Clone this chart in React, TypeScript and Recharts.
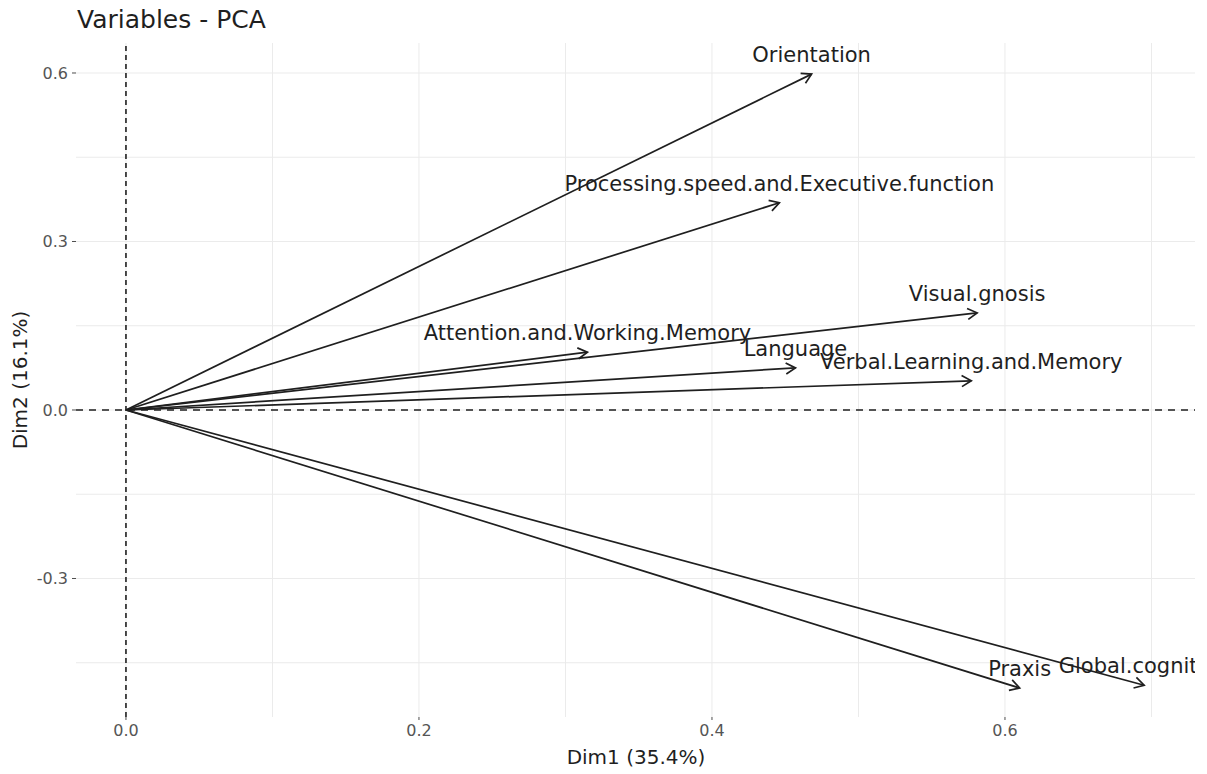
import React from 'react';
import { ScatterChart, XAxis, YAxis, ReferenceLine } from 'recharts';

const variables = [
  'Orientation',
  'Processing.speed.and.Executive.function',
  'Visual.gnosis',
  'Attention.and.Working.Memory',
  'Language',
  'Verbal.Learning.and.Memory',
  'Praxis',
  'Global.cognition',
];
const dim1 = [0.468, 0.446, 0.581, 0.315, 0.457, 0.577, 0.61, 0.695];
const dim2 = [0.598, 0.369, 0.173, 0.103, 0.075, 0.052, -0.495, -0.49];

const xTicks = [0, 0.2, 0.4, 0.6];
const yTicks = [-0.3, 0, 0.3, 0.6];
const xGrid = [0, 0.1, 0.2, 0.3, 0.4, 0.5, 0.6, 0.7];
const yGrid = [-0.45, -0.3, -0.15, 0, 0.15, 0.3, 0.45, 0.6];

const ink = '#1f1f1f';
const font = '"DejaVu Sans", sans-serif';

const Arrow = (p: any) => {
  const { x1, y1, x2, y2, clipPath, name } = p;
  const a = Math.atan2(y2 - y1, x2 - x1);
  const len = 11;
  const spread = Math.PI / 6;
  const h1x = x2 - len * Math.cos(a - spread);
  const h1y = y2 - len * Math.sin(a - spread);
  const h2x = x2 - len * Math.cos(a + spread);
  const h2y = y2 - len * Math.sin(a + spread);
  return (
    <g clipPath={clipPath}>
      <line x1={x1} y1={y1} x2={x2} y2={y2} stroke={ink} strokeWidth={1.7} />
      <polyline
        points={`${h1x},${h1y} ${x2},${y2} ${h2x},${h2y}`}
        fill="none"
        stroke={ink}
        strokeWidth={1.7}
      />
      <text x={x2} y={y2 - 12} textAnchor="middle" fontSize={21} fill={ink} fontFamily={font}>
        {name}
      </text>
    </g>
  );
};

const App: React.FC = () => {
  return (
    <div
      style={{
        position: 'absolute',
        left: 0,
        top: 0,
        width: 1207,
        height: 774,
        background: '#fff',
        fontFamily: font,
      }}
    >
      <div style={{ position: 'absolute', left: 77, top: 5, fontSize: 25, color: ink }}>Variables - PCA</div>
      <div
        style={{
          position: 'absolute',
          left: 20,
          top: 380,
          fontSize: 20,
          color: ink,
          whiteSpace: 'nowrap',
          transform: 'translate(-50%, -50%) rotate(-90deg)',
        }}
      >
        Dim2 (16.1%)
      </div>
      <div
        style={{
          position: 'absolute',
          left: 636,
          top: 757,
          fontSize: 20,
          color: ink,
          whiteSpace: 'nowrap',
          transform: 'translate(-50%, -50%)',
        }}
      >
        Dim1 (35.4%)
      </div>
      <ScatterChart width={1207} height={774} margin={{ top: 43, right: 12, left: 0, bottom: 0 }}>
        <XAxis
          type="number"
          dataKey="x"
          domain={[-0.0341, 0.7297]}
          allowDataOverflow
          ticks={xTicks}
          tickFormatter={(v: number) => v.toFixed(1)}
          axisLine={false}
          tickLine={{ stroke: '#4d4d4d' }}
          tickSize={3}
          tickMargin={5}
          height={57}
          tick={{ fill: '#555', fontSize: 16, fontFamily: font }}
        />
        <YAxis
          type="number"
          dataKey="y"
          domain={[-0.5466, 0.6534]}
          allowDataOverflow
          ticks={yTicks}
          tickFormatter={(v: number) => v.toFixed(1)}
          axisLine={false}
          tickLine={{ stroke: '#4d4d4d' }}
          tickSize={4}
          tickMargin={4}
          width={76}
          tick={{ fill: '#555', fontSize: 16, fontFamily: font }}
        />
        {xGrid.map((v) => (
          <ReferenceLine key={`gx${v}`} x={v} stroke="#ebebeb" strokeWidth={1} />
        ))}
        {yGrid.map((v) => (
          <ReferenceLine key={`gy${v}`} y={v} stroke="#ebebeb" strokeWidth={1} />
        ))}
        <ReferenceLine x={0} stroke={ink} strokeWidth={1.6} strokeDasharray="5 4" />
        <ReferenceLine y={0} stroke={ink} strokeWidth={1.6} strokeDasharray="7 6" />
        {variables.map((name, i) => (
          <ReferenceLine
            key={name}
            segment={[
              { x: 0, y: 0 },
              { x: dim1[i], y: dim2[i] },
            ]}
            ifOverflow="hidden"
            shape={(p: any) => <Arrow {...p} name={name} />}
          />
        ))}
      </ScatterChart>
    </div>
  );
};

export default App;
